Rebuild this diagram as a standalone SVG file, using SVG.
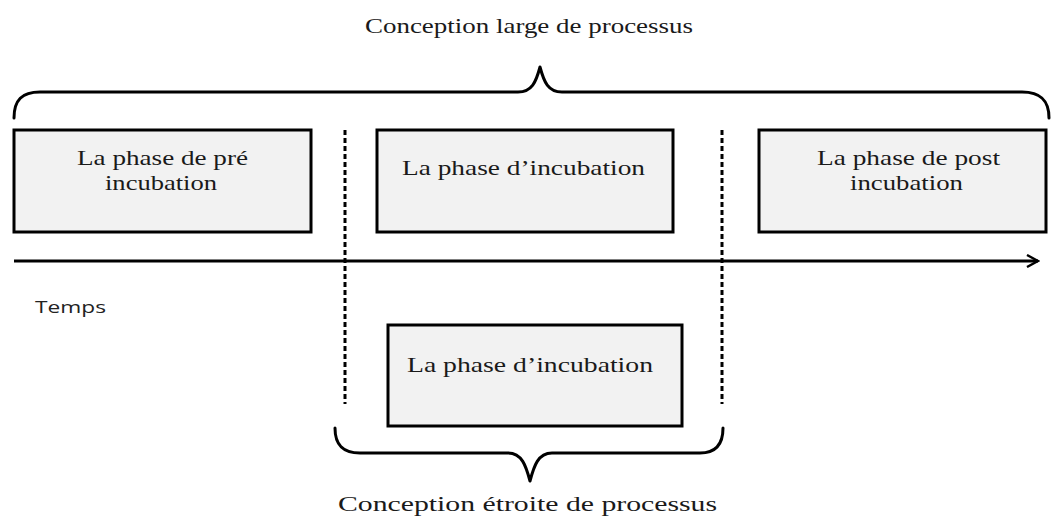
<svg xmlns="http://www.w3.org/2000/svg" width="1053" height="522" viewBox="0 0 1053 522">
  <defs>
    <marker id="open-arrow" viewBox="0 0 14 14" refX="12" refY="7" markerWidth="14" markerHeight="14" markerUnits="userSpaceOnUse" orient="auto">
      <path d="M1,1 L12,7 L1,13" fill="none" stroke="#000" stroke-width="2.4" stroke-linejoin="miter"/>
    </marker>
    <style>
      .box { fill: #f2f2f2; stroke: #000; stroke-width: 3; }
      .lbl { font-family: "Liberation Serif", "Times New Roman", serif; font-size: 21px; fill: #1a1a1a; }
      .title { font-family: "Liberation Serif", "Times New Roman", serif; font-size: 21px; fill: #1a1a1a; }
      .axis-lbl { font-family: "Open Sans", "Liberation Sans", sans-serif; font-size: 17px; fill: #222; }
      .brace { fill: none; stroke: #000; stroke-width: 3; stroke-linejoin: round; stroke-linecap: round; }
      .divider { stroke: #000; stroke-width: 3; stroke-dasharray: 5 3; }
      .axis { stroke: #000; stroke-width: 3; }
    </style>
  </defs>

  <rect width="1053" height="522" fill="#fff"/>

  <!-- broad view of the process: brace over all three phases -->
  <g id="brace-large">
    <path class="brace" d="M14,118 C14,100 22,92 40,92 L518,92 C532,92 536,82 540,67 C544,82 548,92 562,92 L1022,92 C1040,92 1049,100 1049,118"/>
    <text class="title" x="365" y="33" textLength="328" lengthAdjust="spacingAndGlyphs">Conception  large  de processus</text>
  </g>

  <g id="phase-pre">
    <rect class="box" x="14" y="130" width="297" height="102"/>
    <text class="lbl" x="77" y="165" textLength="171" lengthAdjust="spacingAndGlyphs">La phase de pré</text>
    <text class="lbl" x="105" y="190" textLength="112" lengthAdjust="spacingAndGlyphs">incubation</text>
  </g>

  <g id="phase-incubation">
    <rect class="box" x="377" y="130" width="296" height="102"/>
    <text class="lbl" x="402" y="175" textLength="243" lengthAdjust="spacingAndGlyphs">La phase d’incubation</text>
  </g>

  <g id="phase-post">
    <rect class="box" x="759" y="130" width="287" height="102"/>
    <text class="lbl" x="817" y="165" textLength="183" lengthAdjust="spacingAndGlyphs">La phase de post</text>
    <text class="lbl" x="850" y="190" textLength="113" lengthAdjust="spacingAndGlyphs">incubation</text>
  </g>

  <!-- time axis and phase boundaries -->
  <g id="connectors">
    <line class="axis" x1="14" y1="261" x2="1038" y2="261" marker-end="url(#open-arrow)"/>
    <line class="divider" x1="345" y1="130" x2="345" y2="404"/>
    <line class="divider" x1="722" y1="130" x2="722" y2="404"/>
  </g>

  <g id="axis-label">
    <text class="axis-lbl" x="35" y="313" textLength="71" lengthAdjust="spacingAndGlyphs">Temps</text>
  </g>

  <g id="phase-incubation-narrow">
    <rect class="box" x="388" y="325" width="294" height="101"/>
    <text class="lbl" x="407" y="372" textLength="246" lengthAdjust="spacingAndGlyphs">La phase d’incubation</text>
  </g>

  <!-- narrow view of the process: brace under the incubation phase only -->
  <g id="brace-narrow">
    <path class="brace" d="M335,428 C335,444 342,453 360,453 L508,453 C522,453 526,466 530,481 C534,466 538,453 552,453 L700,453 C716,453 723,444 723,428"/>
    <text class="title" x="338" y="511" textLength="379" lengthAdjust="spacingAndGlyphs">Conception  étroite  de processus</text>
  </g>
</svg>
